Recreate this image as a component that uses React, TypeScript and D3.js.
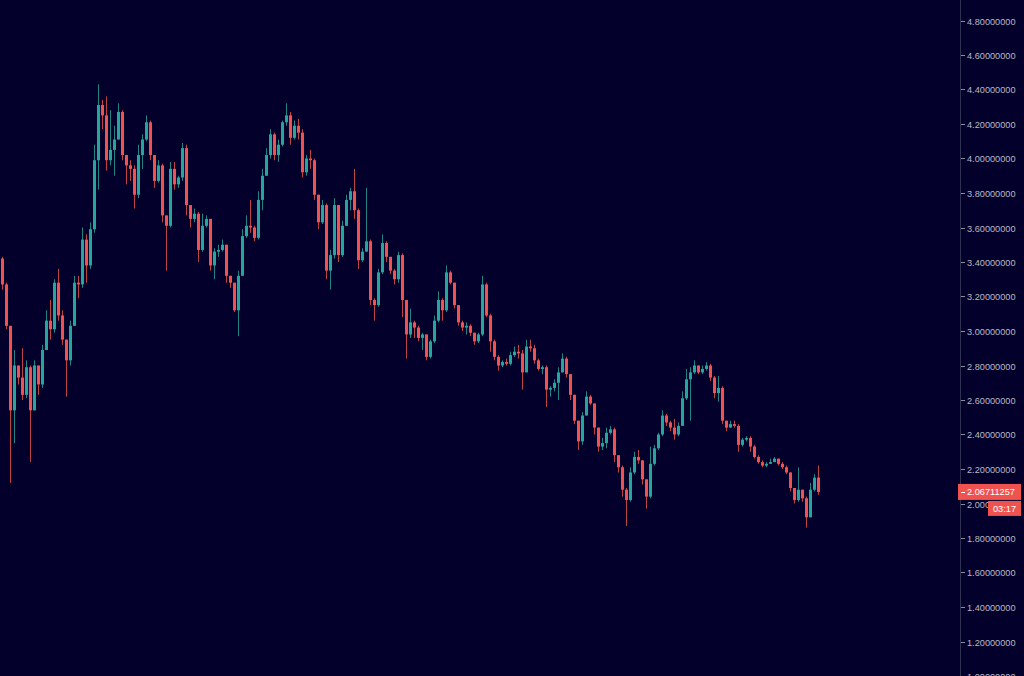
import React from "react";
import * as d3 from "d3";

const firstOpen = 3.42;

const closes = [
  3.27,3.03,2.54,2.80,2.73,2.63,2.79,2.54,2.80,2.69,
  2.89,3.06,3.01,3.28,3.09,2.95,2.83,3.03,3.28,3.27,
  3.53,3.38,3.59,3.99,4.31,4.25,3.99,4.05,4.11,4.27,
  4.02,3.96,3.94,3.79,4.02,4.11,4.21,4.02,3.87,3.96,
  3.67,3.61,3.94,3.85,3.89,4.06,3.73,3.65,3.68,3.47,
  3.61,3.65,3.38,3.46,3.47,3.50,3.32,3.28,3.12,3.32,
  3.55,3.61,3.60,3.54,3.76,3.90,4.02,4.14,4.02,4.08,
  4.21,4.25,4.12,4.19,4.15,3.92,4.00,3.99,3.79,3.63,
  3.73,3.35,3.44,3.73,3.44,3.61,3.76,3.81,3.70,3.41,
  3.46,3.52,3.18,3.15,3.34,3.51,3.43,3.35,3.30,3.44,
  3.18,2.98,3.05,3.02,2.96,2.98,2.85,2.94,3.06,3.18,
  3.12,3.34,3.28,3.15,3.05,3.02,3.03,2.99,2.94,2.98,
  3.27,3.09,2.94,2.85,2.80,2.82,2.81,2.86,2.88,2.87,
  2.76,2.91,2.90,2.83,2.78,2.79,2.66,2.67,2.70,2.76,
  2.84,2.75,2.63,2.48,2.36,2.51,2.62,2.58,2.44,2.33,
  2.35,2.41,2.43,2.28,2.21,2.08,2.02,2.18,2.27,2.25,
  2.14,2.04,2.23,2.32,2.40,2.51,2.47,2.44,2.40,2.45,
  2.61,2.72,2.76,2.80,2.76,2.78,2.80,2.73,2.64,2.67,
  2.48,2.44,2.46,2.45,2.34,2.37,2.38,2.33,2.27,2.24,
  2.22,2.23,2.24,2.26,2.23,2.21,2.18,2.09,2.02,2.08,
  2.03,1.92,2.08,2.15,2.06711257,
];

const highs = [
  3.43,3.28,2.89,2.89,2.80,2.90,2.83,2.80,2.83,2.79,
  2.92,3.12,3.18,3.30,3.36,3.12,2.95,3.06,3.32,3.32,
  3.60,3.56,3.63,4.08,4.43,4.34,4.36,4.28,4.19,4.32,
  4.28,4.02,3.99,3.96,4.08,4.14,4.25,4.22,4.02,3.99,
  3.97,3.67,3.98,3.98,3.90,4.09,4.08,3.73,3.71,3.69,
  3.68,3.67,3.65,3.48,3.50,3.53,3.50,3.32,3.28,3.35,
  3.59,3.67,3.76,3.61,3.81,3.94,4.06,4.17,4.15,4.11,
  4.22,4.32,4.27,4.22,4.23,4.17,4.02,4.05,4.00,3.79,
  3.76,3.74,3.47,3.77,3.73,3.64,3.79,3.83,3.94,3.71,
  3.48,3.83,3.53,3.19,3.36,3.56,3.52,3.43,3.36,3.46,
  3.45,3.18,3.13,3.06,3.03,2.99,2.98,2.95,3.09,3.23,
  3.19,3.38,3.35,3.28,3.15,3.06,3.05,3.04,2.99,2.99,
  3.32,3.28,3.10,2.95,2.86,2.83,2.84,2.88,2.91,2.92,
  2.89,2.95,2.95,2.92,2.84,2.80,2.80,2.68,2.72,2.79,
  2.87,2.85,2.75,2.63,2.48,2.53,2.65,2.63,2.58,2.44,
  2.38,2.44,2.45,2.44,2.28,2.22,2.09,2.21,2.30,2.31,
  2.25,2.14,2.33,2.34,2.41,2.54,2.52,2.48,2.49,2.47,
  2.65,2.78,2.79,2.83,2.80,2.80,2.82,2.81,2.74,2.74,
  2.68,2.48,2.48,2.48,2.46,2.38,2.39,2.39,2.34,2.28,
  2.25,2.24,2.26,2.27,2.26,2.24,2.22,2.18,2.09,2.21,
  2.08,2.04,2.12,2.17,2.22,
];

const lows = [
  3.24,3.01,2.12,2.35,2.69,2.60,2.61,2.24,2.54,2.63,
  2.67,2.89,2.95,2.99,3.06,2.92,2.62,2.80,3.03,3.19,
  3.25,3.28,3.36,3.57,3.82,4.17,3.93,3.96,3.90,4.11,
  3.99,3.85,3.87,3.71,3.77,3.94,4.10,3.99,3.83,3.86,
  3.63,3.35,3.60,3.82,3.83,3.87,3.67,3.60,3.63,3.40,
  3.46,3.60,3.35,3.30,3.43,3.46,3.28,3.25,3.11,2.97,
  3.32,3.54,3.57,3.52,3.53,3.70,3.90,4.00,3.99,3.98,
  4.07,4.19,4.08,4.11,4.11,3.89,3.90,3.94,3.76,3.59,
  3.62,3.30,3.24,3.42,3.40,3.43,3.61,3.70,3.65,3.36,
  3.40,3.47,3.15,3.06,3.14,3.33,3.40,3.33,3.27,3.28,
  3.08,2.84,2.96,2.96,2.94,2.89,2.83,2.84,2.93,3.05,
  3.06,3.11,3.27,3.13,3.03,3.00,2.98,2.97,2.92,2.93,
  2.97,3.08,2.88,2.83,2.77,2.79,2.80,2.80,2.85,2.84,
  2.66,2.76,2.88,2.81,2.77,2.75,2.56,2.62,2.65,2.60,
  2.76,2.73,2.60,2.46,2.31,2.34,2.51,2.57,2.40,2.30,
  2.31,2.32,2.40,2.24,2.18,2.04,1.87,2.01,2.17,2.23,
  2.11,1.97,2.03,2.22,2.31,2.39,2.45,2.42,2.37,2.39,
  2.45,2.60,2.48,2.75,2.75,2.75,2.77,2.71,2.61,2.59,
  2.46,2.42,2.44,2.44,2.30,2.33,2.36,2.30,2.26,2.23,
  2.21,2.21,2.23,2.24,2.22,2.20,2.17,2.07,2.00,2.01,
  2.01,1.86,1.92,2.07,2.05,
];

const priceTicks = [1.0, 1.2, 1.4, 1.6, 1.8, 2.0, 2.2, 2.4, 2.6, 2.8, 3.0, 3.2, 3.4, 3.6, 3.8, 4.0, 4.2, 4.4, 4.6, 4.8];
const countdownText = "03:17";

const W = 1024;
const H = 676;
const BG = "#03002b";
const UP = "#26a69a";
const DOWN = "#ef5350";
const AXIS_X = 960;
const FONT = "'Liberation Sans', Arial, sans-serif";

export default function App() {
  const n = closes.length;
  const x = d3.scaleLinear().domain([0, n - 1]).range([2, 818]);
  const y = d3.scaleLinear().domain([1.0, 4.8]).range([676, 20.5]);

  const candles = closes.map((c, i) => {
    const o = i === 0 ? firstOpen : closes[i - 1];
    const hi = Math.max(highs[i], o, c);
    const lo = Math.min(lows[i], o, c);
    return { i, o, c, hi, lo, up: c >= o };
  });

  const last = closes[n - 1];
  const lastY = y(last);

  return (
    <svg
      width={W}
      height={H}
      style={{ position: "fixed", left: 0, top: 0, display: "block", background: BG }}
    >
      <rect x={0} y={0} width={W} height={H} fill={BG} />
      <g>
        {candles.map((d) => {
          const cx = Math.round(x(d.i));
          const col = d.up ? UP : DOWN;
          const top = y(Math.max(d.o, d.c));
          const bot = y(Math.min(d.o, d.c));
          return (
            <g key={d.i}>
              <line
                x1={cx + 0.5}
                x2={cx + 0.5}
                y1={y(d.hi)}
                y2={y(d.lo)}
                stroke={col}
                strokeWidth={1}
                opacity={0.8}
              />
              <rect x={cx - 1} y={top} width={3} height={Math.max(1, bot - top)} fill={col} />
            </g>
          );
        })}
      </g>
      <line x1={AXIS_X + 0.5} x2={AXIS_X + 0.5} y1={0} y2={H} stroke="#2f3150" strokeWidth={1} />
      <g fontFamily={FONT} fontSize={9.2} fill="#b8bac6">
        {priceTicks.map((t) => (
          <g key={t} transform={`translate(0,${Math.round(y(t)) + 0.5})`}>
            <line x1={AXIS_X + 1} x2={AXIS_X + 5} y1={0} y2={0} stroke="#8a8ca0" strokeWidth={1} />
            <text x={967} y={0} dy="0.35em">
              {t.toFixed(8)}
            </text>
          </g>
        ))}
      </g>
      <g fontFamily={FONT} fontSize={9.2}>
        <rect x={958} y={lastY - 8} width={63} height={16} fill={DOWN} />
        <line x1={AXIS_X + 1} x2={AXIS_X + 5} y1={Math.round(lastY) + 0.5} y2={Math.round(lastY) + 0.5} stroke="#ffffff" />
        <text x={967} y={lastY} dy="0.35em" fill="#ffffff">
          {last.toFixed(8)}
        </text>
        <rect x={988} y={lastY + 9} width={33} height={15} fill={DOWN} />
        <text x={1004.5} y={lastY + 16.5} dy="0.35em" fill="#ffffff" textAnchor="middle">
          {countdownText}
        </text>
      </g>
    </svg>
  );
}
